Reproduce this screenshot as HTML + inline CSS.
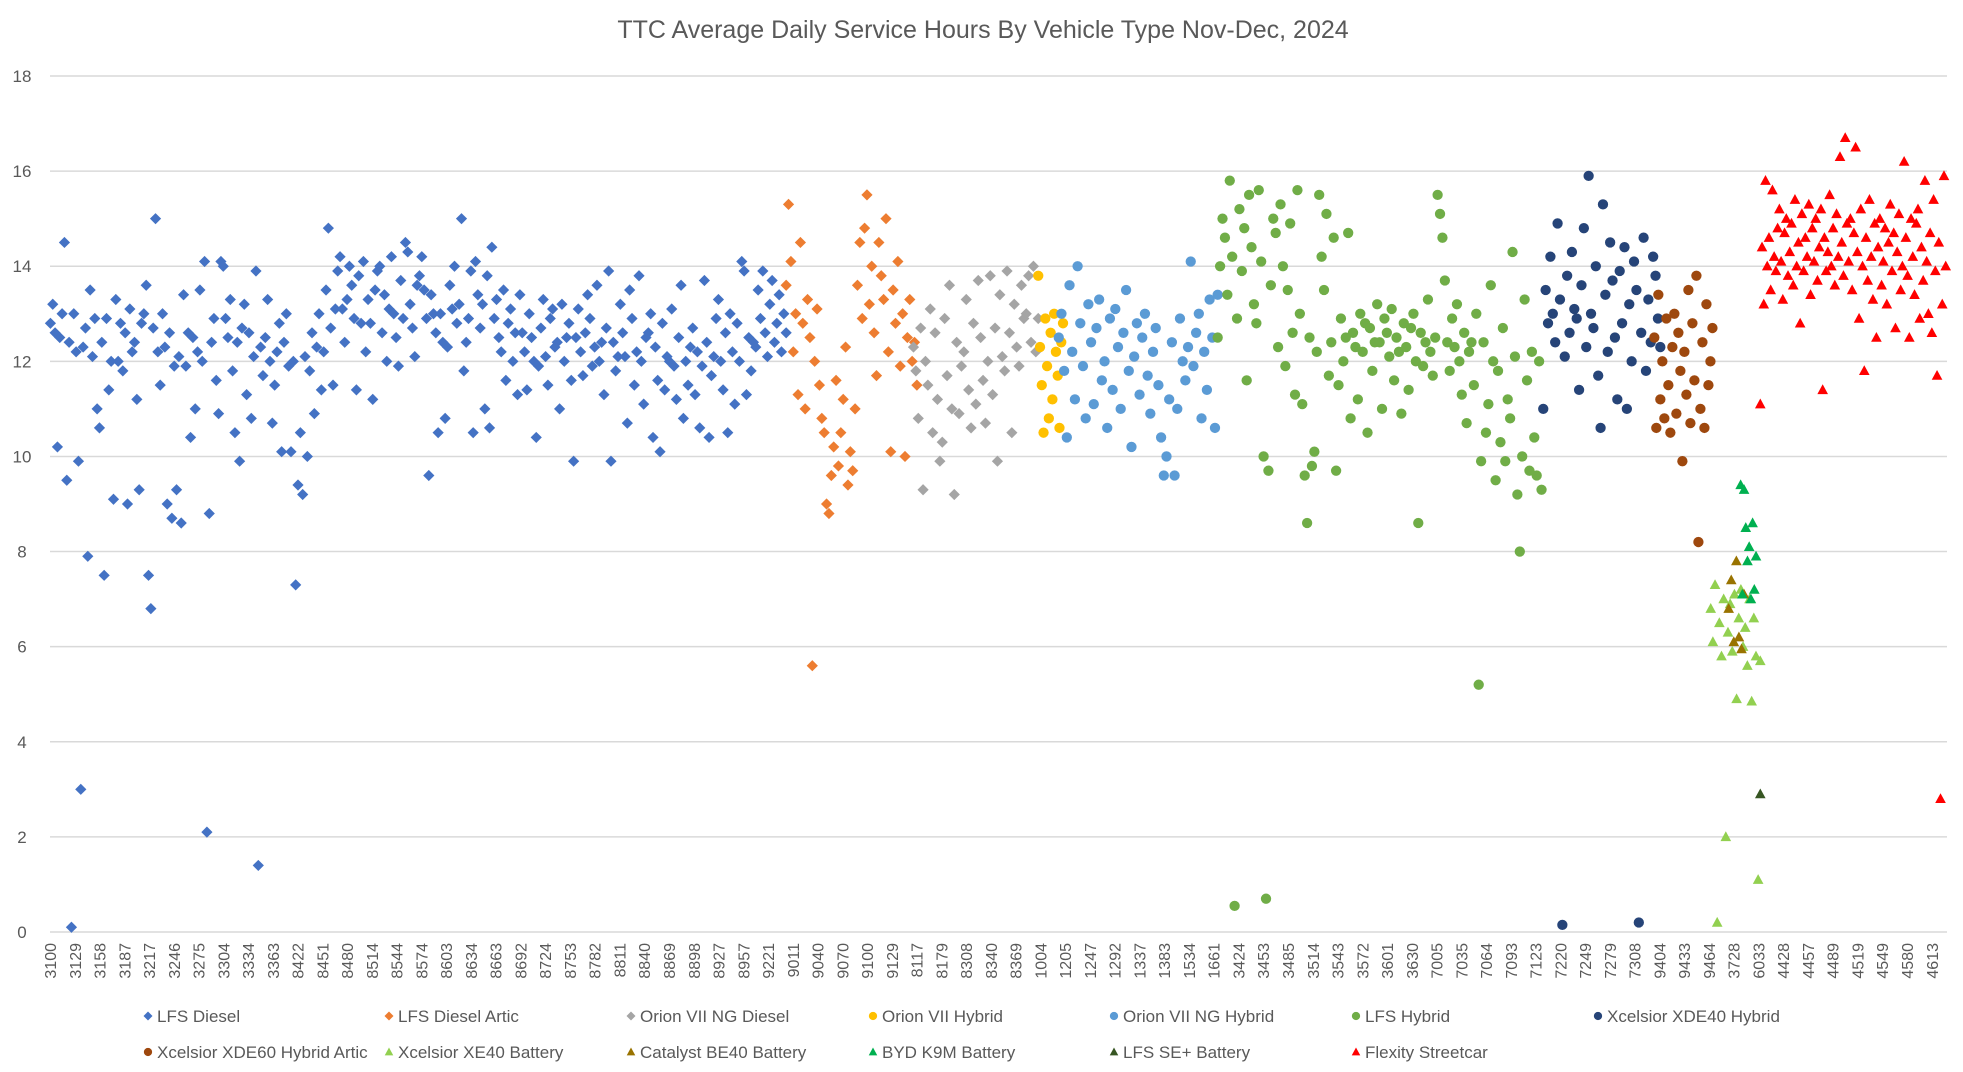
<!DOCTYPE html>
<html><head><meta charset="utf-8"><style>
html,body{margin:0;padding:0;background:#fff;}
svg{display:block;font-family:"Liberation Sans",Calibri,sans-serif;}
</style></head><body>
<svg id="chart" width="1963" height="1072" xmlns="http://www.w3.org/2000/svg">
<text x="983" y="38" text-anchor="middle" font-size="25" fill="#595959">TTC Average Daily Service Hours By Vehicle Type Nov-Dec, 2024</text>
<g id="grid"></g>
<g id="yticks"></g>
<g id="xticks"></g>
<g id="marks"></g>
<g id="legend"></g>
</svg>
<script>
const yTicks=[0,2,4,6,8,10,12,14,16,18];
const xLabels=["3100","3129","3158","3187","3217","3246","3275","3304","3334","3363","8422","8451","8480","8514","8544","8574","8603","8634","8663","8692","8724","8753","8782","8811","8840","8869","8898","8927","8957","9221","9011","9040","9070","9100","9129","8117","8179","8308","8340","8369","1004","1205","1247","1292","1337","1383","1534","1661","3424","3453","3485","3514","3543","3572","3601","3630","7005","7035","7064","7093","7123","7220","7249","7279","7308","9404","9433","9464","3728","6033","4428","4457","4489","4519","4549","4580","4613"];
const seriesNames=["LFS Diesel","LFS Diesel Artic","Orion VII NG Diesel","Orion VII Hybrid","Orion VII NG Hybrid","LFS Hybrid","Xcelsior XDE40 Hybrid","Xcelsior XDE60 Hybrid Artic","Xcelsior XE40 Battery","Catalyst BE40 Battery","BYD K9M Battery","LFS SE+ Battery","Flexity Streetcar"];
const seriesStart=[0,861,1010,1156,1180,1366,1747,1877,1943,1964,1978,2001,2001];
const seriesEnd=[861,1014,1156,1185,1366,1745,1884,1945,2001,1982,1996,2001,2218];
const lfsDiesel=[12.8,13.2,12.6,10.2,12.5,13.0,14.5,9.5,12.4,0.1,13.0,12.2,9.9,3.0,12.3,12.7,7.9,13.5,12.1,12.9,11.0,10.6,12.4,7.5,12.9,11.4,12.0,9.1,13.3,12.0,12.8,11.8,12.6,9.0,13.1,12.2,12.4,11.2,9.3,12.8,13.0,13.6,7.5,6.8,12.7,15.0,12.2,11.5,13.0,12.3,9.0,12.6,8.7,11.9,9.3,12.1,8.6,13.4,11.9,12.6,10.4,12.5,11.0,12.2,13.5,12.0,14.1,2.1,8.8,12.4,12.9,11.6,10.9,14.1,14.0,12.9,12.5,13.3,11.8,10.5,12.4,9.9,12.7,13.2,11.3,12.6,10.8,12.1,13.9,1.4,12.3,11.7,12.5,13.3,12.0,10.7,11.5,12.2,12.8,10.1,12.4,13.0,11.9,10.1,12.0,7.3,9.4,10.5,9.2,12.1,10.0,11.8,12.6,10.9,12.3,13.0,11.4,12.2,
13.5,14.8,12.7,11.5,13.1,13.9,14.2,13.1,12.4,13.3,14.0,13.6,12.9,11.4,13.8,12.8,14.1,12.2,13.3,12.8,11.2,13.5,13.9,14.0,12.6,13.4,12.0,13.1,14.2,13.0,12.5,11.9,13.7,12.9,14.5,14.3,13.2,12.7,12.1,13.6,13.8,14.2,13.5,12.9,9.6,13.4,13.0,12.6,10.5,13.0,12.4,10.8,12.3,13.6,13.1,14.0,12.8,13.2,15.0,11.8,12.4,12.9,13.9,10.5,14.1,13.4,12.7,13.2,11.0,13.8,10.6,14.4,12.9,13.3,12.5,12.2,13.5,11.6,12.8,13.1,12.0,12.6,11.3,13.4,12.6,12.2,11.4,13.0,12.5,12.0,10.4,11.9,12.7,13.3,12.1,11.5,12.9,13.1,12.3,
12.4,11.0,13.2,12.0,12.5,12.8,11.6,9.9,12.5,13.1,12.2,11.7,12.6,13.4,12.9,11.9,12.3,13.6,12.0,12.4,11.3,12.7,13.9,9.9,12.4,11.8,12.1,13.2,12.6,12.1,10.7,13.5,12.9,11.5,12.2,13.8,12.0,11.1,12.5,12.6,13.0,10.4,12.3,11.6,10.1,12.8,11.4,12.1,12.0,13.1,11.9,11.2,12.5,13.6,10.8,12.0,11.5,12.3,12.7,11.3,12.2,10.6,11.9,13.7,12.4,10.4,11.7,12.1,12.9,13.3,12.0,11.4,12.6,10.5,13.0,12.2,11.1,12.8,12.0,14.1,13.9,11.3,12.5,11.8,12.4,
12.3,13.5,12.9,13.9,12.6,12.1,13.2,13.7,12.4,12.8,13.4,12.2,13.0,12.6];
const lfsDieselArtic=[13.6,15.3,14.1,12.2,13.0,11.3,14.5,12.8,11.0,13.3,12.5,5.6,12.0,13.1,11.5,10.8,10.5,9.0,8.8,9.6,10.2,11.6,9.8,10.5,11.2,12.3,9.4,10.1,9.7,11.0,13.6,14.5,12.9,14.8,15.5,13.2,14.0,12.6,11.7,14.5,13.8,13.3,15.0,12.2,10.1,13.5,12.8,14.1,11.9,13.0,10.0,12.5,13.3,12.0,12.4,11.5];
const orionNgDiesel=[12.3,11.8,10.8,12.7,9.3,12.0,11.5,13.1,10.5,12.6,11.2,9.9,10.3,12.9,11.7,13.6,11.0,9.2,12.4,10.9,11.9,12.2,13.3,11.4,10.6,12.8,11.1,13.7,12.5,11.6,10.7,12.0,13.8,11.3,12.7,9.9,13.4,12.1,11.8,13.9,12.6,10.5,13.2,12.3,11.9,13.6,12.9,13.0,13.8,12.4,14.0,12.2,12.9];
const orionHybrid=[13.8,12.3,11.5,10.5,12.9,11.9,10.8,12.6,11.2,13.0,12.2,11.7,10.6,12.4,12.8];
const orionNgHybrid=[12.5,13.0,11.8,10.4,13.6,12.2,11.2,14.0,12.8,11.9,10.8,13.2,12.4,11.1,12.7,13.3,11.6,12.0,10.6,12.9,11.4,13.1,12.3,11.0,12.6,13.5,11.8,10.2,12.1,12.8,11.3,12.5,13.0,11.7,10.9,12.2,12.7,11.5,10.4,9.6,10.0,11.2,12.4,9.6,11.0,12.9,12.0,11.6,12.3,14.1,11.9,12.6,13.0,10.8,12.2,11.4,13.3,12.5,10.6,13.4];
const lfsHybrid=[12.5,14.0,15.0,14.6,13.4,15.8,14.2,0.55,12.9,15.2,13.9,14.8,11.6,15.5,14.4,13.2,12.8,15.6,14.1,10.0,0.7,9.7,13.6,15.0,14.7,12.3,15.3,14.0,11.9,13.5,14.9,12.6,11.3,15.6,13.0,11.1,9.6,8.6,12.5,9.8,10.1,12.2,15.5,14.2,13.5,15.1,11.7,12.4,14.6,9.7,11.5,12.9,12.0,12.5,14.7,10.8,12.6,12.3,11.2,13.0,12.2,12.8,10.5,12.7,11.8,12.4,13.2,12.4,11.0,12.9,12.6,12.1,13.1,11.6,12.5,12.2,10.9,12.8,12.3,11.4,12.7,13.0,12.0,8.6,12.6,11.9,12.4,13.3,12.2,11.7,12.5,15.5,15.1,14.6,13.7,12.4,11.8,12.9,12.3,13.2,12.0,11.3,12.6,10.7,12.2,12.4,11.5,13.0,5.2,9.9,12.4,10.5,11.1,13.6,12.0,9.5,11.8,10.3,12.7,9.9,11.2,10.8,14.3,12.1,9.2,8.0,10.0,13.3,11.6,9.7,12.2,10.4,9.6,12.0,9.3];
const xde40=[11.0,13.5,12.8,14.2,13.0,12.4,14.9,13.3,0.15,12.1,13.8,12.6,14.3,13.1,12.9,11.4,13.6,14.8,12.3,15.9,13.0,12.7,14.0,11.7,10.6,15.3,13.4,12.2,14.5,13.7,12.5,11.2,13.9,12.8,14.4,11.0,13.2,12.0,14.1,13.5,0.2,12.6,14.6,11.8,13.3,12.4,14.2,13.8,12.9,12.3];
const xde60=[12.5,10.6,13.4,11.2,12.0,10.8,12.9,11.5,10.5,12.3,13.0,10.9,12.6,11.8,9.9,12.2,11.3,13.5,10.7,12.8,11.6,13.8,8.2,11.0,12.4,10.6,13.2,11.5,12.0,12.7];
const xe40=[6.8,6.1,7.3,0.2,6.5,5.8,7.0,2.0,6.3,6.9,5.9,7.1,4.9,6.6,7.2,6.0,6.4,5.6,7.0,4.85,6.6,5.8,1.1,5.7];
const be40=[6.8,7.4,6.1,7.8,6.2,5.95,7.1];
const byd=[9.4,7.1,9.3,8.5,7.8,8.1,7.0,8.6,7.2,7.9];
const lfsSe=[2.9];
const flexity=[11.1,14.4,13.2,15.8,14.0,14.6,13.5,15.6,14.2,13.9,14.8,15.2,14.1,13.3,14.7,15.0,13.8,14.3,14.9,13.6,15.4,14.0,14.5,12.8,15.1,13.9,14.6,14.2,15.3,13.4,14.8,14.1,15.0,13.7,14.4,15.2,11.4,14.6,13.9,14.3,15.5,14.0,14.8,13.6,15.1,14.2,16.3,14.5,13.8,16.7,14.9,14.1,15.0,13.5,14.7,16.5,14.3,12.9,15.2,14.0,11.8,14.6,13.7,15.4,14.2,13.3,14.9,12.5,14.4,15.0,13.6,14.1,14.8,13.2,14.5,15.3,13.9,14.7,12.7,14.3,15.1,13.5,14.0,16.2,14.6,13.8,12.5,15.0,14.2,13.4,14.9,15.2,12.9,14.4,13.7,15.8,14.1,13.0,14.7,12.6,15.4,13.9,11.7,14.5,2.8,13.2,15.9,14.0];

const seriesValues=[lfsDiesel,lfsDieselArtic,orionNgDiesel,orionHybrid,orionNgHybrid,lfsHybrid,xde40,xde60,xe40,be40,byd,lfsSe,flexity];
const colors=["#4472C4","#ED7D31","#A5A5A5","#FFC000","#5B9BD5","#70AD47","#264478","#9E480E","#92D050","#997300","#00B050","#375623","#FF0000"];
const shapes=["d","d","d","c","c","c","c","c","t","t","t","t","t"];
const slugs=["lfs-diesel","lfs-diesel-artic","orion-vii-ng-diesel","orion-vii-hybrid","orion-vii-ng-hybrid","lfs-hybrid","xcelsior-xde40-hybrid","xcelsior-xde60-hybrid-artic","xcelsior-xe40-battery","catalyst-be40-battery","byd-k9m-battery","lfs-se-battery","flexity-streetcar"];

const NS="http://www.w3.org/2000/svg";
const X0=50,X1=1947,Y0=932,Y18=76,NCAT=2220;
const xScale=i=>X0+(i+0.5)*(X1-X0)/NCAT;
const yScale=v=>Y0-(v/18)*(Y0-Y18);
function mk(tag,attrs,parent){const e=document.createElementNS(NS,tag);for(const k in attrs)e.setAttribute(k,attrs[k]);parent.appendChild(e);return e;}
function marker(shape,cx,cy,color,parent,s){
  let e;
  if(shape==="d"){e=mk("polygon",{points:`${cx},${cy-s} ${cx+s},${cy} ${cx},${cy+s} ${cx-s},${cy}`,fill:color},parent);}
  else if(shape==="c"){e=mk("circle",{cx:cx,cy:cy,r:s*0.92,fill:color},parent);}
  else {e=mk("polygon",{points:`${cx},${cy-s} ${cx+s*0.95},${cy+s*0.75} ${cx-s*0.95},${cy+s*0.75}`,fill:color},parent);}
  return e;
}
const grid=document.getElementById("grid"),yt=document.getElementById("yticks"),xt=document.getElementById("xticks"),marks=document.getElementById("marks"),legend=document.getElementById("legend");
yTicks.forEach(v=>{
  const l=mk("line",{x1:X0,x2:X1,y1:yScale(v),y2:yScale(v),stroke:"#D9D9D9","stroke-width":1.5},grid);
  
  
  const t=mk("text",{x:22,y:yScale(v)+6,"text-anchor":"middle","font-size":17,fill:"#595959"},yt);
  t.textContent=v;
  
  
});
xLabels.forEach((lab,k)=>{
  const x=50+k*24.76;
  const t=mk("text",{x:0,y:0,"text-anchor":"end","font-size":16,fill:"#595959",transform:`translate(${x+6},943) rotate(-90)`},xt);
  t.textContent=lab;
  
  
});
seriesValues.forEach((vals,si)=>{
  const g=mk("g",{},marks);
  
  
  const a=seriesStart[si],b=seriesEnd[si],n=vals.length;
  vals.forEach((v,i)=>{
    const idx=n>1?a+(b-a)*i/(n-1):a;
    const p=marker(shapes[si],xScale(idx),yScale(v),colors[si],g,5.6);
    
    
  });
});
const legX=[148,389,631,873,1114,1356,1598];
seriesNames.forEach((nm,si)=>{
  const row=si<7?0:1,col=si<7?si:si-7;
  const cx=legX[col],cy=row===0?1016:1052;
  const g=mk("g",{},legend);
  
  
  marker(shapes[si],cx,cy,colors[si],g,4.5);
  const t=mk("text",{x:cx+9,y:cy+6,"font-size":17,fill:"#595959"},g);
  t.textContent=nm;
});
</script>
</body></html>
